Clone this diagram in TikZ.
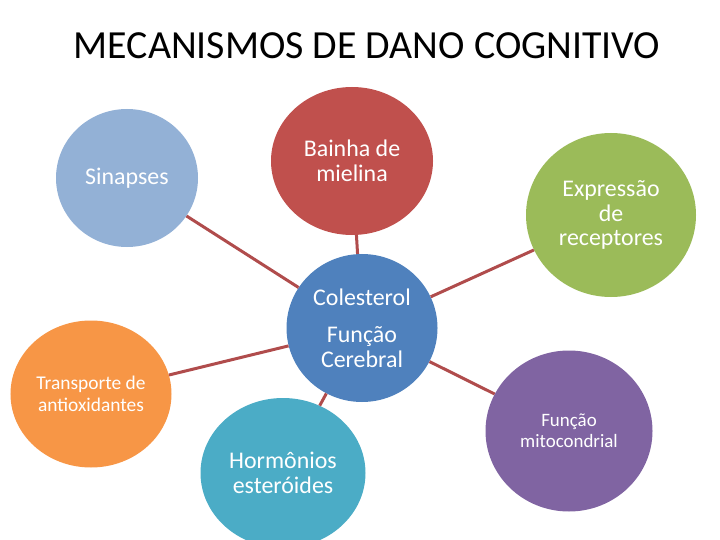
\documentclass[tikz,border=0pt]{standalone}
\usepackage{fontspec}
\setmainfont{Carlito}
\usetikzlibrary{shapes.geometric}
\definecolor{sinblue}{HTML}{93B1D6}
\definecolor{mielred}{HTML}{C0504D}
\definecolor{recgreen}{HTML}{9BBB59}
\definecolor{colblue}{HTML}{4F81BD}
\definecolor{antorange}{HTML}{F79646}
\definecolor{hormteal}{HTML}{4BACC6}
\definecolor{mitpurple}{HTML}{8064A2}
\definecolor{linkred}{HTML}{B04C4C}
\begin{document}
\begin{tikzpicture}
[x=1bp, y=-1bp, font=\fontsize{24}{25}\selectfont]
\tikzstyle{bubble}=[ellipse, draw=none, inner sep=0pt, text=white, align=center]
\tikzstyle{link}=[draw=linkred, line width=3bp]
\useasboundingbox (0,0) rectangle (720,540);
\clip (0,0) rectangle (720,540);

\node (title) at (367,46) {\fontsize{40}{44}\selectfont MECANISMOS DE DANO COGNITIVO};

\node[bubble, fill=sinblue,   minimum width=142bp, minimum height=138bp]	(sin)	at (127,178) {Sinapses};
\node[bubble, fill=mielred,   minimum width=162bp, minimum height=148bp]	(miel)	at (352,161) {Bainha de\\mielina};
\node[bubble, fill=recgreen,  minimum width=170bp, minimum height=164bp]	(rec)	at (611,215) {Expressão\\de\\receptores};
\node[bubble, fill=colblue,   minimum width=151bp, minimum height=148bp]	(col)	at (362,328) {Colesterol\\[12bp]Função\\Cerebral};
\node[bubble, fill=antorange, minimum width=161bp, minimum height=147bp, font=\fontsize{19.5}{22}\selectfont]	(ant)	at (91,394) {Transporte de\\antioxidantes};
\node[bubble, fill=hormteal,  minimum width=165bp, minimum height=150bp]	(horm)	at (283,473) {Hormônios\\esteróides};
\node[bubble, fill=mitpurple, minimum width=167bp, minimum height=161bp, font=\fontsize{19}{21}\selectfont]	(mit)	at (569,431) {Função\\mitocondrial};

\draw [link] (col)--(sin);
\draw [link] (col)--(miel);
\draw [link] (col)--(rec);
\draw [link] (col)--(ant);
\draw [link] (col)--(horm);
\draw [link] (col)--(mit);

\end{tikzpicture}
\end{document}
